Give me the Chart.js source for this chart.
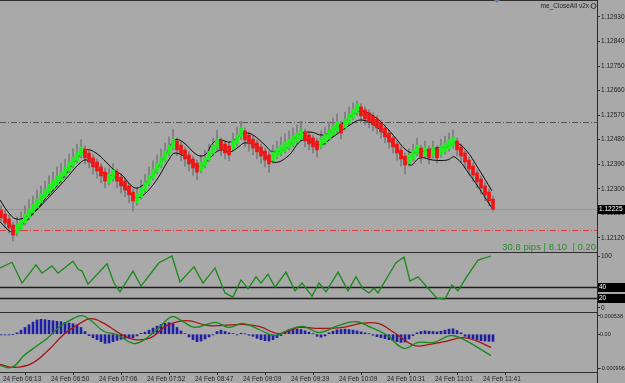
<!DOCTYPE html>
<html>
<head>
<meta charset="utf-8">
<title>EURUSD range bars</title>
<script src="https://cdn.jsdelivr.net/npm/chart.js"></script>
<style>
  body { margin: 0; background: #a9a9a9; width: 625px; height: 383px; overflow: hidden; position: relative; }
  canvas { position: absolute; left: 0; }
</style>
</head>
<body>
<canvas id="priceChart" width="625" height="252" style="top:0"></canvas>
<canvas id="oscChart" width="625" height="60" style="top:252px"></canvas>
<canvas id="macdChart" width="625" height="71" style="top:312px"></canvas>
<script>
// ---- price bars (one entry per bar) ----
const opens = [
  1.12222, 1.12207, 1.12189, 1.12167, 1.12138, 1.12152, 1.12174, 1.12193, 1.12211, 1.12229,
  1.12248, 1.12266, 1.12284, 1.12299, 1.12314, 1.12328, 1.12347, 1.12365, 1.12383, 1.12402,
  1.12420, 1.12446, 1.12431, 1.12413, 1.12398, 1.12380, 1.12361, 1.12321, 1.12336, 1.12361,
  1.12343, 1.12328, 1.12310, 1.12288, 1.12248, 1.12270, 1.12292, 1.12317, 1.12339, 1.12361,
  1.12383, 1.12405, 1.12427, 1.12449, 1.12475, 1.12460, 1.12442, 1.12424, 1.12409, 1.12394,
  1.12365, 1.12383, 1.12405, 1.12427, 1.12449, 1.12475, 1.12464, 1.12457, 1.12446, 1.12464,
  1.12490, 1.12512, 1.12497, 1.12482, 1.12468, 1.12453, 1.12438, 1.12424, 1.12402, 1.12416,
  1.12427, 1.12438, 1.12449, 1.12460, 1.12471, 1.12482, 1.12508, 1.12497, 1.12486, 1.12475,
  1.12453, 1.12468, 1.12482, 1.12497, 1.12512, 1.12537, 1.12523, 1.12541, 1.12559, 1.12578,
  1.12600, 1.12589, 1.12578, 1.12567, 1.12556, 1.12541, 1.12523, 1.12504, 1.12486, 1.12464,
  1.12442, 1.12420, 1.12391, 1.12409, 1.12427, 1.12449, 1.12420, 1.12446, 1.12420, 1.12446,
  1.12424, 1.12435, 1.12446, 1.12457, 1.12475, 1.12453, 1.12431, 1.12405, 1.12383, 1.12358,
  1.12336, 1.12310, 1.12288, 1.12262
];
const closes = [
  1.12193, 1.12174, 1.12156, 1.12130, 1.12171, 1.12185, 1.12207, 1.12226, 1.12244, 1.12262,
  1.12281, 1.12299, 1.12317, 1.12332, 1.12347, 1.12361, 1.12380, 1.12398, 1.12416, 1.12435,
  1.12453, 1.12413, 1.12398, 1.12380, 1.12365, 1.12347, 1.12328, 1.12354, 1.12369, 1.12328,
  1.12310, 1.12295, 1.12277, 1.12255, 1.12281, 1.12303, 1.12325, 1.12350, 1.12372, 1.12394,
  1.12416, 1.12438, 1.12460, 1.12482, 1.12442, 1.12427, 1.12409, 1.12391, 1.12376, 1.12361,
  1.12398, 1.12416, 1.12438, 1.12460, 1.12482, 1.12442, 1.12431, 1.12424, 1.12479, 1.12497,
  1.12523, 1.12479, 1.12464, 1.12449, 1.12435, 1.12420, 1.12405, 1.12391, 1.12435, 1.12449,
  1.12460, 1.12471, 1.12482, 1.12493, 1.12504, 1.12515, 1.12475, 1.12464, 1.12453, 1.12442,
  1.12486, 1.12501, 1.12515, 1.12530, 1.12545, 1.12504, 1.12556, 1.12574, 1.12592, 1.12611,
  1.12567, 1.12556, 1.12545, 1.12534, 1.12523, 1.12508, 1.12490, 1.12471, 1.12453, 1.12431,
  1.12409, 1.12387, 1.12424, 1.12442, 1.12460, 1.12416, 1.12453, 1.12413, 1.12453, 1.12413,
  1.12457, 1.12468, 1.12479, 1.12490, 1.12442, 1.12420, 1.12398, 1.12372, 1.12350, 1.12325,
  1.12303, 1.12277, 1.12255, 1.12225
];
const highs = [
  1.12237, 1.12222, 1.12204, 1.12178, 1.12196, 1.12215, 1.12237, 1.12259, 1.12273, 1.12295,
  1.12310, 1.12328, 1.12347, 1.12361, 1.12380, 1.12394, 1.12409, 1.12427, 1.12446, 1.12464,
  1.12479, 1.12457, 1.12442, 1.12424, 1.12409, 1.12391, 1.12376, 1.12376, 1.12391, 1.12372,
  1.12354, 1.12339, 1.12321, 1.12299, 1.12306, 1.12332, 1.12354, 1.12380, 1.12402, 1.12424,
  1.12446, 1.12468, 1.12490, 1.12519, 1.12486, 1.12471, 1.12453, 1.12435, 1.12420, 1.12405,
  1.12424, 1.12442, 1.12464, 1.12486, 1.12515, 1.12486, 1.12475, 1.12468, 1.12504, 1.12526,
  1.12548, 1.12523, 1.12508, 1.12493, 1.12479, 1.12464, 1.12449, 1.12435, 1.12460, 1.12475,
  1.12490, 1.12501, 1.12512, 1.12523, 1.12534, 1.12548, 1.12519, 1.12508, 1.12497, 1.12486,
  1.12512, 1.12526, 1.12545, 1.12559, 1.12574, 1.12548, 1.12581, 1.12600, 1.12615, 1.12622,
  1.12611, 1.12600, 1.12589, 1.12578, 1.12567, 1.12552, 1.12534, 1.12515, 1.12497, 1.12475,
  1.12453, 1.12431, 1.12446, 1.12464, 1.12486, 1.12460, 1.12475, 1.12457, 1.12475, 1.12457,
  1.12482, 1.12493, 1.12504, 1.12515, 1.12486, 1.12464, 1.12442, 1.12416, 1.12394, 1.12369,
  1.12347, 1.12321, 1.12299, 1.12273
];
const lows = [
  1.12178, 1.12156, 1.12138, 1.12108, 1.12127, 1.12145, 1.12167, 1.12185, 1.12204, 1.12222,
  1.12240, 1.12259, 1.12277, 1.12292, 1.12306, 1.12321, 1.12339, 1.12358, 1.12376, 1.12394,
  1.12413, 1.12391, 1.12376, 1.12354, 1.12339, 1.12321, 1.12303, 1.12314, 1.12328, 1.12303,
  1.12284, 1.12270, 1.12248, 1.12218, 1.12240, 1.12262, 1.12284, 1.12310, 1.12332, 1.12354,
  1.12376, 1.12398, 1.12420, 1.12442, 1.12420, 1.12402, 1.12383, 1.12365, 1.12350, 1.12332,
  1.12358, 1.12376, 1.12398, 1.12420, 1.12442, 1.12420, 1.12409, 1.12402, 1.12438, 1.12457,
  1.12482, 1.12453, 1.12438, 1.12424, 1.12409, 1.12394, 1.12380, 1.12361, 1.12394, 1.12409,
  1.12420, 1.12431, 1.12442, 1.12453, 1.12464, 1.12475, 1.12453, 1.12442, 1.12431, 1.12416,
  1.12446, 1.12460, 1.12475, 1.12490, 1.12504, 1.12482, 1.12515, 1.12534, 1.12552, 1.12570,
  1.12545, 1.12534, 1.12523, 1.12512, 1.12501, 1.12486, 1.12468, 1.12449, 1.12431, 1.12405,
  1.12383, 1.12354, 1.12383, 1.12402, 1.12420, 1.12394, 1.12413, 1.12391, 1.12413, 1.12394,
  1.12416, 1.12427, 1.12438, 1.12449, 1.12420, 1.12398, 1.12376, 1.12350, 1.12328, 1.12303,
  1.12281, 1.12255, 1.12237, 1.12218
];

// channel lines [bar, price]
const upperBand = [
  [-0.25, 1.12259], [1.75, 1.12215], [3.75, 1.12189], [6.25, 1.12196], [8.75, 1.12222],
  [11.25, 1.12266], [13.75, 1.12306], [16.25, 1.12354], [18.75, 1.12405], [21.25, 1.12442],
  [23.75, 1.12431], [26.25, 1.12398], [28.25, 1.12369], [30.25, 1.12350], [33, 1.12306],
  [34.75, 1.12306], [38, 1.12350], [41.5, 1.12435], [43.5, 1.12479], [45.5, 1.12471],
  [49, 1.12424], [51, 1.12424], [53, 1.12468], [54.75, 1.12479], [57.25, 1.12471],
  [59.25, 1.12490], [61, 1.12504], [63, 1.12497], [66, 1.12460], [68, 1.12435],
  [71.5, 1.12449], [74.25, 1.12497], [77.25, 1.12508], [80.5, 1.12497], [84, 1.12523],
  [87.25, 1.12563], [89.75, 1.12585], [91.75, 1.12578], [94.75, 1.12548], [98.25, 1.12493],
  [101.25, 1.12442], [103.25, 1.12431], [105.75, 1.12438], [108.75, 1.12449], [111.75, 1.12453],
  [113.75, 1.12468], [116.25, 1.12442], [119.25, 1.12376], [122.75, 1.12292]
];
const lowerBand = [
  [-0.25, 1.12178], [2.75, 1.12141], [4.75, 1.12160], [8.5, 1.12215], [12.25, 1.12273],
  [16, 1.12332], [19.75, 1.12394], [21.5, 1.12405], [24.75, 1.12365], [28.75, 1.12339],
  [32.25, 1.12284], [34.25, 1.12266], [38, 1.12314], [42.25, 1.12413], [43.5, 1.12431],
  [46.5, 1.12413], [49.75, 1.12380], [52.25, 1.12413], [54.75, 1.12442], [57.25, 1.12435],
  [59, 1.12449], [61, 1.12468], [64, 1.12457], [68, 1.12398], [71.5, 1.12416],
  [75.5, 1.12479], [79.75, 1.12460], [83, 1.12490], [87.25, 1.12534], [90.25, 1.12552],
  [94.25, 1.12523], [98.25, 1.12460], [102.25, 1.12387], [104.75, 1.12413], [108, 1.12405],
  [111.5, 1.12405], [113.5, 1.12416], [117.25, 1.12350], [122.75, 1.12229]
];

const priceTicks = [1.12120, 1.12210, 1.12300, 1.12390, 1.12480, 1.12570, 1.12660, 1.12750, 1.12840, 1.12930];
const dashLevel = 1.12545;
const stopLevel = 1.12149;
const lastPrice = 1.12225;
const infoText = '30.8 pips | 8.10  | 0.20';
const eaName = 'me_CloseAll v2x';

// ---- oscillator [bar, value] ----
const oscLine = [
  [-0.25, 77], [2.75, 88], [5.25, 48], [8.75, 83], [10.25, 67], [12.75, 81], [14.25, 67],
  [18, 90], [19.25, 75], [20.25, 71], [21.75, 46], [26.5, 85], [28.25, 48], [29.75, 31],
  [33, 71], [35, 42], [39.5, 87], [42.75, 100], [44.75, 50], [48.25, 79], [50.5, 48],
  [53.5, 77], [56, 29], [58, 21], [60, 54], [61.75, 37], [63.75, 60], [65, 48], [66.75, 65],
  [68.5, 40], [71.25, 69], [73.5, 33], [75.25, 48], [77.75, 23], [79.5, 48], [81.25, 31],
  [84.25, 69], [86.75, 33], [88.75, 60], [90.5, 37], [92, 29], [93.25, 38], [94.25, 29],
  [98.75, 87], [100.75, 98], [102.25, 52], [104.25, 60], [106.75, 38], [109, 19], [111, 17],
  [112.75, 44], [114.25, 33], [116.25, 58], [119.25, 92], [122.5, 100]
];
const oscTicks = [0, 100];
const oscLevels = [40, 20];

// ---- MACD ----
const macdHist = [
  -0.00002, -0.00002, -0.00002, -0.00001, 0.00004, 0.00012, 0.00020, 0.00028, 0.00036, 0.00042,
  0.00044, 0.00043, 0.00041, 0.00040, 0.00038, 0.00037, 0.00035, 0.00033, 0.00031, 0.00027,
  0.00020, 0.00008, -0.00004, -0.00010, -0.00016, -0.00022, -0.00027, -0.00026, -0.00022, -0.00018,
  -0.00015, -0.00012, -0.00012, -0.00010, -0.00005, 0.00003, 0.00006, 0.00012, 0.00018, 0.00024,
  0.00029, 0.00032, 0.00034, 0.00030, 0.00020, 0.00010, 0.00002, -0.00008, -0.00016, -0.00022,
  -0.00020, -0.00014, -0.00008, -0.00002, 0.00008, 0.00012, 0.00008, 0.00004, 0.00002, -0.00002,
  0.00003, 0.00001, -0.00003, -0.00006, -0.00012, -0.00016, -0.00019, -0.00020, -0.00016, -0.00010,
  -0.00004, 0.00008, 0.00014, 0.00017, 0.00015, 0.00014, 0.00010, 0.00006, 0.00002, -0.00006,
  -0.00009, -0.00005, 0.00004, 0.00009, 0.00013, 0.00014, 0.00015, 0.00014, 0.00012, 0.00010,
  0.00007, 0.00004, 0.00002, -0.00003, -0.00007, -0.00010, -0.00013, -0.00016, -0.00019, -0.00022,
  -0.00024, -0.00023, -0.00014, -0.00004, 0.00004, 0.00008, 0.00010, 0.00009, 0.00008, 0.00007,
  0.00009, 0.00012, 0.00015, 0.00016, 0.00011, 0.00004, -0.00006, -0.00010, -0.00014, -0.00017,
  -0.00019, -0.00020, -0.00021, -0.00021
];
const macdMain = [
  [-0.25, -0.00092], [2.75, -0.00098], [5.75, -0.00063], [8.75, -0.00036], [11.75, -0.00010],
  [14.75, 0.00023], [18, 0.00046], [20.25, 0.00055], [22.25, 0.00043], [25.75, 0.00008],
  [28.75, 0.00000], [33, -0.00027], [35.5, -0.00019], [39.5, 0.00020], [42.75, 0.00052],
  [45.5, 0.00037], [48.5, 0.00020], [53.5, 0.00035], [57, 0.00020], [60.5, 0.00032],
  [64.5, 0.00014], [68.5, -0.00004], [71.5, 0.00011], [75.5, 0.00023], [79.5, 0.00005],
  [84.5, 0.00026], [88.75, 0.00037], [92.5, 0.00020], [96.25, -0.00001], [100.75, -0.00042],
  [104.25, -0.00024], [108.25, -0.00024], [112.25, -0.00004], [115.25, -0.00013], [122.5, -0.00063]
];
const macdSignal = [
  [-0.25, -0.00089], [3.25, -0.00098], [7.75, -0.00086], [11.75, -0.00048], [15.75, 0.00000],
  [19.75, 0.00032], [22.5, 0.00046], [25.75, 0.00032], [29.75, 0.00002], [33.5, -0.00016],
  [37.5, -0.00010], [41.5, 0.00026], [46.5, 0.00040], [51.5, 0.00026], [55.5, 0.00026],
  [60.5, 0.00029], [64.5, 0.00023], [69.5, 0.00002], [74.5, 0.00020], [79.5, 0.00017],
  [85.5, 0.00020], [90, 0.00032], [94.25, 0.00032], [98.25, 0.00005], [103.25, -0.00033],
  [107.25, -0.00030], [111.25, -0.00021], [115.25, -0.00010], [118.75, -0.00019], [122.5, -0.00039]
];
const macdTicks = [-0.000996, 0, 0.000538];

// ---- time axis ----
const timeIdx = [0, 12, 24, 36, 48, 60, 72, 84, 96, 108, 120];
const timeLabels = ['24 Feb 06:13', '24 Feb 06:50', '24 Feb 07:06', '24 Feb 07:52', '24 Feb 08:47',
  '24 Feb 09:09', '24 Feb 09:39', '24 Feb 10:09', '24 Feb 10:31', '24 Feb 11:01', '24 Feb 11:41'];

// ---- styling ----
const FONT = "'Liberation Sans Narrow', 'Liberation Sans', Arial, sans-serif";
const TXT = '#1e1e1e';
const FRAME = '#2c2c2c';
const UP = '#1cf01c';
const DOWN = '#f01414';
const X_MIN = -0.25, X_MAX = 149;
const AXIS_W = 28;

const pairs = arr => arr.map(p => ({x: p[0], y: p[1]}));

function rightAxis(min, max, ticks, fmt, size, pad) {
  return {
    position: 'right', min: min, max: max,
    afterBuildTicks: s => { s.ticks = ticks.map(v => ({value: v})); },
    afterFit: s => { s.width = AXIS_W; s.paddingTop = 0; s.paddingBottom = 0; },
    grid: {drawOnChartArea: false, drawTicks: true, tickLength: 3, color: FRAME},
    border: {display: false},
    ticks: {autoSkip: false, padding: pad === undefined ? 1 : pad, color: TXT, font: {family: FONT, size: size || 6.5}, callback: fmt}
  };
}
const hiddenX = {type: 'linear', min: X_MIN, max: X_MAX, display: false, offset: false};

function frame(ctx, a, top, bottom) {
  ctx.save();
  ctx.strokeStyle = FRAME;
  ctx.lineWidth = 1;
  ctx.beginPath();
  ctx.moveTo(0, top + 0.5); ctx.lineTo(a.right + 1, top + 0.5);
  ctx.moveTo(a.right + 0.5, 0); ctx.lineTo(a.right + 0.5, ctx.canvas.height);
  if (bottom) { ctx.moveTo(0, a.bottom + 0.5); ctx.lineTo(a.right + 1, a.bottom + 0.5); }
  ctx.stroke();
  ctx.restore();
}
function hLine(ctx, a, py, color, dash, w) {
  ctx.beginPath();
  ctx.setLineDash(dash);
  ctx.strokeStyle = color;
  ctx.lineWidth = w || 1;
  const y = Math.round(py) + 0.5;
  ctx.moveTo(a.left, y); ctx.lineTo(a.right, y);
  ctx.stroke();
  ctx.setLineDash([]);
}
function tagBox(ctx, a, py, text) {
  ctx.fillStyle = '#000';
  ctx.fillRect(a.right + 1, Math.round(py) - 4, AXIS_W, 9);
  ctx.fillStyle = '#fff';
  ctx.font = '6.5px ' + FONT;
  ctx.textAlign = 'left';
  ctx.textBaseline = 'middle';
  ctx.fillText(text, a.right + 2, Math.round(py) + 0.5);
}

// ---- main price chart ----
const pricePlugin = {
  id: 'pricePlugin',
  beforeDatasetsDraw(chart) {
    const {ctx, chartArea: a, scales: {y}} = chart;
    ctx.save();
    hLine(ctx, a, y.getPixelForValue(lastPrice), '#8797a8', []);
    hLine(ctx, a, y.getPixelForValue(dashLevel), '#555555', [6, 2, 1, 2]);
    hLine(ctx, a, y.getPixelForValue(stopLevel), '#e43c3c', [6, 2, 1, 2]);
    ctx.restore();
  },
  afterDraw(chart) {
    const {ctx, chartArea: a, scales: {y}} = chart;
    frame(ctx, a, 0, false);
    ctx.save();
    tagBox(ctx, a, y.getPixelForValue(lastPrice), lastPrice.toFixed(5));
    ctx.fillStyle = TXT;
    ctx.font = '6.5px ' + FONT;
    ctx.textAlign = 'right';
    ctx.textBaseline = 'middle';
    ctx.fillText(eaName, a.right - 8, 6);
    ctx.strokeStyle = '#333';
    ctx.beginPath();
    ctx.arc(a.right - 3.5, 6, 2.5, 0, Math.PI * 2);
    ctx.stroke();
    ctx.fillStyle = '#6f7f99';
    ctx.beginPath();
    ctx.moveTo(494, 0); ctx.lineTo(500, 0); ctx.lineTo(497, 3); ctx.closePath();
    ctx.fill();
    ctx.fillStyle = '#22922a';
    ctx.font = '9.5px "Liberation Sans", Arial, sans-serif';
    ctx.textBaseline = 'alphabetic';
    ctx.fillText(infoText, a.right - 1, 250);
    ctx.restore();
  }
};

new Chart(document.getElementById('priceChart'), {
  type: 'bar',
  data: {
    datasets: [
      {
        data: opens.map((o, i) => ({x: i, y: [o, closes[i]]})),
        backgroundColor: opens.map((o, i) => closes[i] >= o ? UP : DOWN),
        barThickness: 3, grouped: false, order: 1
      },
      {type: 'line', data: pairs(upperBand), borderColor: '#0a0a0a', borderWidth: 1, pointRadius: 0, tension: 0.4, order: 2},
      {type: 'line', data: pairs(lowerBand), borderColor: '#0a0a0a', borderWidth: 1, pointRadius: 0, tension: 0.4, order: 2},
      {
        data: lows.map((l, i) => ({x: i, y: [l, highs[i]]})),
        backgroundColor: '#7c7c7c',
        barThickness: 1, grouped: false, order: 3
      }
    ]
  },
  options: {
    responsive: false, animation: false,
    layout: {padding: 0, autoPadding: false},
    plugins: {legend: {display: false}, tooltip: {enabled: false}},
    scales: {
      x: hiddenX,
      y: rightAxis(1.12068, 1.12992, priceTicks, v => v.toFixed(5))
    }
  },
  plugins: [pricePlugin]
});

// ---- oscillator ----
const oscPlugin = {
  id: 'oscPlugin',
  beforeDatasetsDraw(chart) {
    const {ctx, chartArea: a, scales: {y}} = chart;
    ctx.save();
    oscLevels.forEach(l => hLine(ctx, a, y.getPixelForValue(l), '#1c1c1c', [], 1.3));
    ctx.restore();
  },
  afterDraw(chart) {
    const {ctx, chartArea: a, scales: {y}} = chart;
    frame(ctx, a, 0, false);
    ctx.save();
    oscLevels.forEach(l => tagBox(ctx, a, y.getPixelForValue(l), String(l)));
    ctx.restore();
  }
};

new Chart(document.getElementById('oscChart'), {
  type: 'line',
  data: {
    datasets: [{data: pairs(oscLine), borderColor: '#178a17', borderWidth: 1.3, pointRadius: 0, tension: 0}]
  },
  options: {
    responsive: false, animation: false,
    layout: {padding: 0, autoPadding: false},
    plugins: {legend: {display: false}, tooltip: {enabled: false}},
    scales: {
      x: hiddenX,
      y: rightAxis(-7.7, 107.7, oscTicks, v => String(v))
    }
  },
  plugins: [oscPlugin]
});

// ---- MACD ----
const macdPlugin = {
  id: 'macdPlugin',
  afterDraw(chart) {
    frame(chart.ctx, chart.chartArea, 0, true);
  }
};

new Chart(document.getElementById('macdChart'), {
  type: 'bar',
  data: {
    datasets: [
      {type: 'line', data: pairs(macdMain), borderColor: '#168a16', borderWidth: 1.3, pointRadius: 0, tension: 0.4, order: 0},
      {type: 'line', data: pairs(macdSignal), borderColor: '#a81414', borderWidth: 1.3, pointRadius: 0, tension: 0.4, order: 0},
      {data: macdHist.map((v, i) => ({x: i, y: v})), backgroundColor: '#1f1fa6', barThickness: 2, grouped: false, order: 1}
    ]
  },
  options: {
    responsive: false, animation: false,
    layout: {padding: 0, autoPadding: false},
    plugins: {legend: {display: false}, tooltip: {enabled: false}},
    scales: {
      x: {
        type: 'linear', min: X_MIN, max: X_MAX, offset: false,
        afterBuildTicks: s => { s.ticks = timeIdx.map(v => ({value: v})); },
        afterFit: s => { s.height = 11; s.paddingLeft = 0; s.paddingRight = 0; },
        grid: {drawOnChartArea: false, drawTicks: true, tickLength: 3, color: FRAME},
        border: {display: false},
        ticks: {
          autoSkip: false, maxRotation: 0, align: 'start', labelOffset: 2, padding: 0,
          color: TXT, font: {family: FONT, size: 6.5},
          callback: v => timeLabels[timeIdx.indexOf(v)]
        }
      },
      y: rightAxis(-0.001114, 0.000656, macdTicks, v => v === 0 ? '0.00' : v.toFixed(6), 5.5, 0)
    }
  },
  plugins: [macdPlugin]
});
</script>
</body>
</html>
